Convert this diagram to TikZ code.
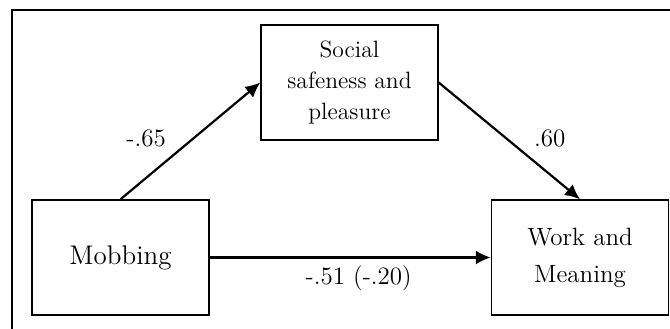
\documentclass[tikz,border=0pt]{standalone}
\usepackage{tikz}
\usetikzlibrary{positioning,arrows.meta}
\newcommand{\widthbox}{88.5pt}
\newcommand{\heightbox}{57.5pt}
\newcommand{\distright}{229.75pt}
\newcommand{\distup}{87.5pt}
\newcommand{\distmid}{114.5pt}

\begin{document}
\begin{tikzpicture}[on grid,auto,>={Latex[length=7.5pt,width=7pt]},
		font=\fontsize{12.5}{15}\selectfont]
		\useasboundingbox (0,0) rectangle (335pt,-164pt);
		\draw[line width=1pt] (6pt,-5pt) rectangle (345pt,-175pt);
		\node[draw, rectangle, line width = 0.7pt, minimum width = \widthbox, minimum height = \heightbox, font = \fontsize{13.5}{16}\selectfont] (0) at (60.25pt,-128.75pt) {Mobbing};
		\node[draw, rectangle, line width = 0.7pt, minimum width = \widthbox, minimum height = \heightbox, align = center, font = \fontsize{11.8}{15.5}\selectfont] (1) [above right = \distup and \distmid of 0] {Social\\safeness and\\pleasure};
		\node[draw, rectangle, line width = 0.7pt, minimum width = \widthbox, minimum height = \heightbox, align = center, font = \fontsize{12.5}{18.5}\selectfont] (2) [right = \distright of 0] {Work and\\Meaning};
		\path[->, line width = 1.1pt]
			(0.north) edge
				node[pos = 0.38, above left = 0pt] {-.65}
				(1.west)
			(1.east) edge
				node[pos = 0.62, above right = 0pt] {.60}
				(2.north)
			(0) edge
				node[pos = 0.53, below] {-.51 (-.20)}
				(2)
		;
	\end{tikzpicture}
\end{document}
